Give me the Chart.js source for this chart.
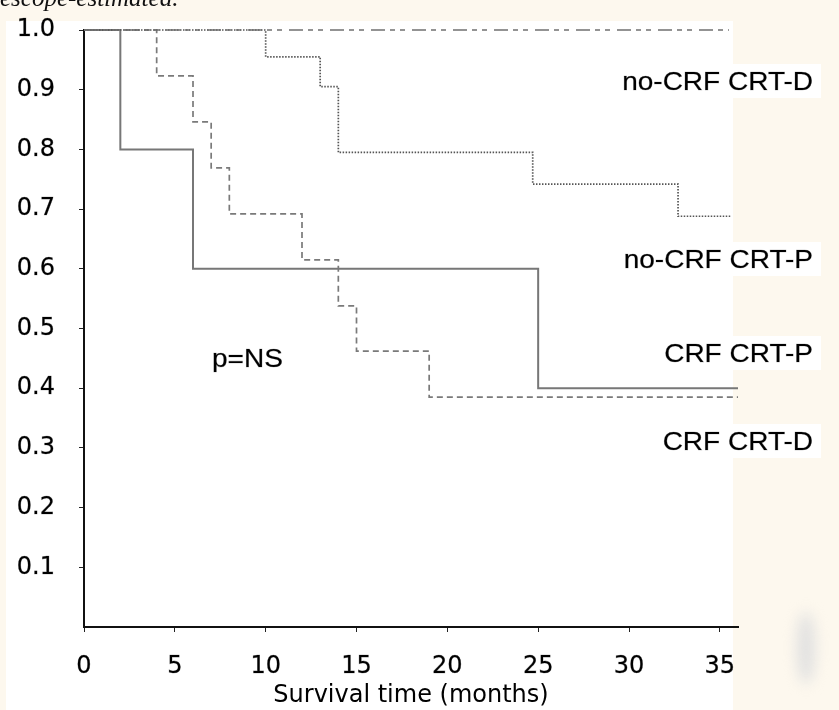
<!DOCTYPE html>
<html>
<head>
<meta charset="utf-8">
<title>Kaplan-Meier CRT</title>
<script src="https://cdn.jsdelivr.net/npm/chart.js@4.4.1/dist/chart.umd.min.js"></script>
<style>
    html, body { margin: 0; padding: 0; background: #fdf8ee; }
    #wrap { position: relative; width: 839px; height: 710px; overflow: hidden; }
    #grafikKM { display: block; }
    #caption {
        position: absolute; left: 0; top: -15px; z-index: 2;
        font: italic 25px "Liberation Serif", "Times New Roman", serif;
        line-height: 1; color: #111; white-space: nowrap;
    }
</style>
</head>
<body>
<div id="wrap">
    <div id="caption">escope-estimated.</div>
    <canvas id="grafikKM" width="839" height="710"></canvas>
</div>
<script>
        // tick labels
        const xTicks = [0, 5, 10, 15, 20, 25, 30, 35];
        const yTicks = [0.1, 0.2, 0.3, 0.4, 0.5, 0.6, 0.7, 0.8, 0.9, 1.0];

        // CRF CRT-P (solid)
        const crfPMonths = [0, 2, 6, 25, 36];
        const crfPSurv   = [1.0, 0.8, 0.6, 0.4, 0.4];

        // CRF CRT-D (dashed)
        const crfDMonths = [0, 4, 6, 7, 8, 12, 14, 15, 19, 36];
        const crfDSurv   = [1.0, 0.923, 0.846, 0.769, 0.692, 0.615, 0.538, 0.462, 0.385, 0.385];

        // no-CRF CRT-P (dotted)
        const noCrfPMonths = [0, 10, 13, 14, 24.7, 32.7, 35.6];
        const noCrfPSurv   = [1.0, 0.955, 0.905, 0.795, 0.742, 0.688, 0.688];

        // no-CRF CRT-D (dash-dot)
        const noCrfDMonths = [0, 35.5];
        const noCrfDSurv   = [1.0, 1.0];

        const groupLabels = ['no-CRF CRT-D', 'no-CRF CRT-P', 'CRF CRT-P', 'CRF CRT-D'];

        function toPoints(months, surv) {
            return months.map((m, i) => ({ x: m, y: surv[i] }));
        }

        const tickFont = { family: '"DejaVu Sans", Arial, sans-serif', size: 24 };

        // background: cream border with white plot paper
        const paperPlugin = {
            id: 'paper',
            beforeDraw(chart) {
                const c = chart.ctx;
                c.save();
                c.fillStyle = '#fdf8ee';
                c.fillRect(0, 0, chart.width, chart.height);
                c.fillStyle = '#ffffff';
                c.fillRect(6, 21, 727, 689);
                c.filter = 'blur(7px)';
                c.fillStyle = '#e0e0e0';
                c.beginPath();
                c.ellipse(806, 648, 9, 36, 0, 0, Math.PI * 2);
                c.fill();
                c.restore();
            }
        };

        // group names and p value, text a bit wide like the original
        const notesPlugin = {
            id: 'notes',
            afterDraw(chart) {
                const c = chart.ctx;
                const notes = [
                    { text: groupLabels[0], x: 813, y: 90, align: 'right' },
                    { text: groupLabels[1], x: 813, y: 268, align: 'right' },
                    { text: groupLabels[2], x: 813, y: 362, align: 'right' },
                    { text: groupLabels[3], x: 813, y: 450, align: 'right' },
                    { text: 'p=NS', x: 212, y: 367, align: 'left' }
                ];
                c.save();
                c.font = '25px Arial, "Liberation Sans", sans-serif';
                c.textBaseline = 'alphabetic';
                notes.forEach(n => {
                    const w = c.measureText(n.text).width * 1.12;
                    const left = n.align === 'right' ? n.x - w : n.x;
                    c.fillStyle = '#ffffff';
                    c.fillRect(left - 8, n.y - 26, w + 16, 34);
                    c.save();
                    c.translate(n.x, n.y);
                    c.scale(1.12, 1);
                    c.textAlign = n.align;
                    c.fillStyle = '#000000';
                    c.strokeStyle = 'rgba(0,0,0,0.35)';
                    c.lineWidth = 0.6;
                    c.fillText(n.text, 0, 0);
                    c.strokeText(n.text, 0, 0);
                    c.restore();
                });
                c.restore();
            }
        };

        const ctx = document.getElementById('grafikKM').getContext('2d');
        const myChart = new Chart(ctx, {
            type: 'line',
            data: {
                datasets: [
                    {
                        label: groupLabels[0],
                        data: toPoints(noCrfDMonths, noCrfDSurv),
                        borderColor: '#707070',
                        borderWidth: 1.6,
                        borderDash: [14, 5, 5, 5, 5, 7]
                    },
                    {
                        label: groupLabels[1],
                        data: toPoints(noCrfPMonths, noCrfPSurv),
                        borderColor: '#555555',
                        borderWidth: 1.7,
                        borderDash: [1.5, 1.5]
                    },
                    {
                        label: groupLabels[3],
                        data: toPoints(crfDMonths, crfDSurv),
                        borderColor: '#7a7a7a',
                        borderWidth: 1.7,
                        borderDash: [6, 4]
                    },
                    {
                        label: groupLabels[2],
                        data: toPoints(crfPMonths, crfPSurv),
                        borderColor: '#777777',
                        borderWidth: 2
                    }
                ]
            },
            options: {
                responsive: false,
                animation: false,
                devicePixelRatio: 1,
                layout: { padding: { top: 30, right: 101, left: 0, bottom: 0 } },
                elements: {
                    point: { radius: 0, hoverRadius: 0 },
                    line: { stepped: true, fill: false, tension: 0 }
                },
                datasets: { line: { clip: false } },
                plugins: {
                    legend: { display: false },
                    tooltip: { enabled: false }
                },
                scales: {
                    x: {
                        type: 'linear',
                        min: 0,
                        max: 36,
                        afterBuildTicks: scale => { scale.ticks = xTicks.map(v => ({ value: v })); },
                        afterFit: scale => {
                            scale.height = 83;
                            scale.paddingLeft = 0;
                            scale.paddingRight = 0;
                        },
                        ticks: {
                            autoSkip: false,
                            maxRotation: 0,
                            font: tickFont,
                            color: '#000',
                            textStrokeColor: 'rgba(0,0,0,0.4)',
                            textStrokeWidth: 0.6,
                            padding: 20
                        },
                        grid: {
                            drawOnChartArea: false,
                            drawTicks: true,
                            tickLength: 5,
                            color: '#222',
                            lineWidth: 1
                        },
                        border: { display: true, color: '#111', width: 2 },
                        title: {
                            display: true,
                            text: 'Survival time (months)',
                            font: tickFont,
                            color: '#000',
                            padding: { top: 3, bottom: 0 }
                        }
                    },
                    y: {
                        type: 'linear',
                        min: 0,
                        max: 1,
                        afterBuildTicks: scale => { scale.ticks = yTicks.map(v => ({ value: v })); },
                        afterFit: scale => {
                            scale.width = 84;
                            scale.paddingTop = 0;
                            scale.paddingBottom = 0;
                        },
                        ticks: {
                            font: tickFont,
                            color: '#000',
                            textStrokeColor: 'rgba(0,0,0,0.4)',
                            textStrokeWidth: 0.6,
                            padding: 24,
                            callback: v => v.toFixed(1)
                        },
                        grid: {
                            drawOnChartArea: false,
                            drawTicks: true,
                            tickLength: 5,
                            color: '#222',
                            lineWidth: 1
                        },
                        border: { display: true, color: '#111', width: 2 }
                    }
                }
            },
            plugins: [paperPlugin, notesPlugin]
        });
</script>
</body>
</html>
